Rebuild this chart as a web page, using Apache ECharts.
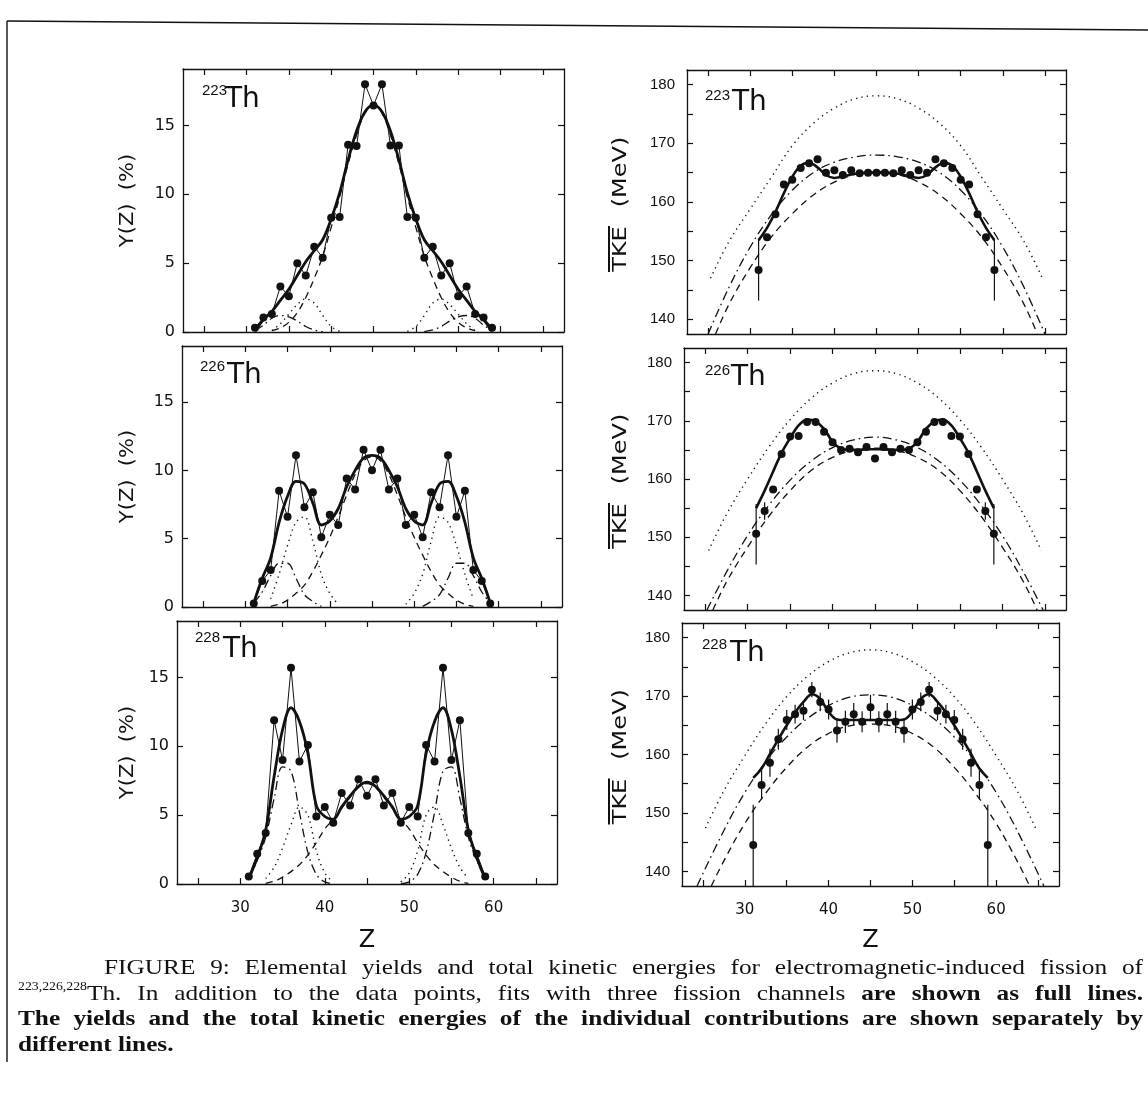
<!DOCTYPE html>
<html>
<head>
<meta charset="utf-8">
<title>Elemental yields and TKE of 223,226,228Th</title>
<script src="https://cdn.jsdelivr.net/npm/echarts@6.0.0/dist/echarts.min.js"></script>
<style>
html,body{margin:0;padding:0;background:#ffffff;}
#chart{width:1148px;height:1110px;}
</style>
</head>
<body>
<div id="chart"></div>
<script>
// ================= data =================
const Z_INT = [31,32,33,34,35,36,37,38,39,40,41,42,43,44,45,46,47,48,49,50,51,52,53,54,55,56,57,58,59];
const Z_MID = [33,34,35,36,37,38,39,40,41,42,43,44,45,46,47,48,49,50,51,52,53,54,55,56,57];

const X_TICKS = [25,30,35,40,45,50,55,60,65];
const X_LABELS = [30,40,50,60];
const Y_TICKS = [0,5,10,15];
const TKE_TICKS = [140,145,150,155,160,165,170,175,180];
const TKE_LABELS = [140,150,160,170,180];
const NUCLEI = ['223','226','228'];

// ---- yields Y(Z) in % ----
const Y223_DATA = [0.3,1.05,1.3,3.3,2.6,5.0,4.1,6.2,5.4,8.3,8.35,13.6,13.5,18.0,16.45,18.0,13.55,13.55,8.35,8.3,5.4,6.2,4.1,5.0,2.6,3.3,1.3,1.05,0.3];
const Y223_FIT  = [0.05,0.9,1.5,2.3,3.1,4.1,5.1,5.9,6.7,8.2,10.1,12.5,14.6,16.0,16.5,16.0,14.6,12.5,10.1,8.2,6.7,5.9,5.1,4.1,3.1,2.3,1.5,0.9,0.05];
const Y223_DASH = [0.1,0.3,0.7,1.4,2.5,3.9,5.5,7.6,9.8,12.2,14.3,15.9,16.45,15.9,14.3,12.2,9.8,7.6,5.5,3.9,2.5,1.4,0.7,0.3,0.1];
const Y223_DOT  = [0.1,0.6,1.3,2.0,2.4,2.1,1.2,0.4,0.05,null,null,null,null,null,null,null,0.05,0.4,1.2,2.1,2.4,2.0,1.3,0.6,0.1];
const Y223_DDOT = [0.1,0.5,1.0,1.2,1.1,0.8,0.4,0.15,0.03,null,null,null,null,null,null,null,null,null,null,null,0.03,0.15,0.4,0.8,1.1,1.2,1.0,0.5,0.1];

const Y226_DATA = [0.25,1.9,2.7,8.5,6.6,11.1,7.3,8.4,5.1,6.75,6.0,9.4,8.6,11.5,10.0,11.5,8.6,9.4,6.0,6.75,5.1,8.4,7.3,11.1,6.6,8.5,2.7,1.9,0.25];
const Y226_FIT  = [0.3,2.1,3.6,6.2,8.1,9.2,9.0,7.6,6.0,6.3,7.2,8.8,10.0,10.9,11.1,10.9,10.0,8.8,7.2,6.3,6.0,7.6,9.0,9.2,8.1,6.2,3.6,2.1,0.3];
const Y226_DASH = [0.05,0.2,0.5,1.0,1.6,2.6,3.8,5.1,6.6,8.2,9.7,10.7,11.0,10.7,9.7,8.2,6.6,5.1,3.8,2.6,1.6,1.0,0.5,0.2,0.05];
const Y226_DOT  = [0.6,2.4,4.5,6.2,6.6,4.8,2.4,1.0,0.2,null,null,null,null,null,null,null,0.2,1.0,2.4,4.8,6.6,6.2,4.5,2.4,0.6];
const Y226_DDOT = [0.3,1.1,2.3,3.2,3.2,2.1,0.9,0.4,0.05,null,null,null,null,null,null,null,null,null,null,null,0.05,0.4,0.9,2.1,3.2,3.2,2.3,1.1,0.3];

const Y228_DATA = [0.55,2.2,3.7,11.9,9.0,15.7,8.9,10.1,4.9,5.6,4.45,6.6,5.7,7.6,6.4,7.6,5.7,6.6,4.45,5.6,4.9,10.1,8.9,15.7,9.0,11.9,3.7,2.2,0.55];
const Y228_FIT  = [0.4,1.9,3.9,7.8,11.2,12.8,11.8,9.5,5.7,4.9,4.7,5.6,6.4,7.1,7.4,7.1,6.4,5.6,4.7,4.9,5.7,9.5,11.8,12.8,11.2,7.8,3.9,1.9,0.4];
const Y228_DASH = [0.05,0.2,0.5,0.9,1.4,2.1,3.0,4.0,4.7,5.5,6.3,7.0,7.3,7.0,6.3,5.5,4.7,4.0,3.0,2.1,1.4,0.9,0.5,0.2,0.05];
const Y228_DOT  = [0.4,1.2,2.6,4.3,5.6,5.0,2.4,0.8,0.15,null,null,null,null,null,null,null,0.15,0.8,2.4,5.0,5.6,4.3,2.6,1.2,0.4];
const Y228_DDOT = [0.4,1.7,3.4,6.2,8.5,8.2,5.2,2.3,0.7,0.15,0.02,null,null,null,null,null,null,null,0.02,0.15,0.7,2.3,5.2,8.2,8.5,6.2,3.4,1.7,0.4];

// ---- total kinetic energies (MeV) ----
const TKE223_DATA = [148.4,154.0,157.9,163.0,163.8,165.8,166.6,167.3,165.0,165.4,164.6,165.4,164.9,165.0,165.0,165.0,164.9,165.4,164.6,165.4,165.0,167.3,166.6,165.8,163.8,163.0,157.9,154.0,148.4];
const TKE223_FIT  = [153.5,155.6,158.3,161.5,164.3,166.2,166.7,165.9,164.6,164.1,164.3,164.7,164.9,165.0,165.0,165.0,164.9,164.7,164.3,164.1,164.6,165.9,166.7,166.2,164.3,161.5,158.3,155.6,153.5];
const TKE223_ERR_Z  = [31,59];
const TKE223_ERR_LO = [143.2,143.2];
const TKE223_ERR_HI = [153.6,153.6];
const TKE223_DOT_Z  = [25.3,27.5,30,32.5,35,37.5,40,42.5,45,47.5,50,52.5,55,57.5,60,62.5,64.7];
const TKE223_DOT    = [147.0,153.3,158.8,164.2,169.6,173.4,176.0,177.6,178.1,177.6,176.0,173.4,169.6,164.2,158.8,153.3,147.0];
const TKE223_DDOT_Z = [25.0,27.5,30,32.5,35,37.5,40,42.5,45,47.5,50,52.5,55,57.5,60,62.5,65.0];
const TKE223_DDOT   = [137.5,145.5,152.3,157.8,162.0,165.0,166.8,167.7,168.0,167.7,166.8,165.0,162.0,157.8,152.3,145.5,137.5];
const TKE223_DASH_Z = [25.9,27.5,30,32.5,35,37.5,40,42.5,45,47.5,50,52.5,55,57.5,60,62.5,64.1];
const TKE223_DASH   = [137.5,142.6,148.8,154.0,158.0,161.2,163.4,164.7,165.2,164.7,163.4,161.2,158.0,154.0,148.8,142.6,137.5];

const TKE226_DATA = [150.6,154.5,158.2,164.3,167.3,167.4,169.8,169.8,168.1,166.3,165.0,165.2,164.6,165.5,163.5,165.5,164.6,165.2,165.0,166.3,168.1,169.8,169.8,167.4,167.3,164.3,158.2,154.5,150.6];
const TKE226_FIT  = [155.0,158.0,161.3,164.5,167.0,169.2,170.2,169.9,168.6,166.4,165.2,165.0,165.0,165.1,165.1,165.1,165.0,165.0,165.2,166.4,168.6,169.9,170.2,169.2,167.0,164.5,161.3,158.0,155.0];
const TKE226_ERR_Z  = [31,32,58,59];
const TKE226_ERR_LO = [145.3,153.0,153.0,145.3];
const TKE226_ERR_HI = [155.7,156.0,156.0,155.7];
const TKE226_DOT_Z  = [25.4,27.5,30,32.5,35,37.5,40,42.5,45,47.5,50,52.5,55,57.5,60,62.5,64.6];
const TKE226_DOT    = [147.7,153.9,160.0,165.5,170.2,173.9,176.5,178.1,178.6,178.1,176.5,173.9,170.2,165.5,160.0,153.9,147.7];
const TKE226_DDOT_Z = [25.2,27.5,30,32.5,35,37.5,40,42.5,45,47.5,50,52.5,55,57.5,60,62.5,64.8];
const TKE226_DDOT   = [137.5,144.0,150.3,155.5,159.8,163.1,165.4,166.7,167.2,166.7,165.4,163.1,159.8,155.5,150.3,144.0,137.5];
const TKE226_DASH_Z = [25.9,27.5,30,32.5,35,37.5,40,42.5,45,47.5,50,52.5,55,57.5,60,62.5,64.1];
const TKE226_DASH   = [137.5,142.3,148.3,153.6,158.0,161.5,163.7,164.9,165.3,164.9,163.7,161.5,158.0,153.6,148.3,142.3,137.5];

const TKE228_DATA = [144.5,154.8,158.6,162.6,165.9,166.9,167.5,171.1,169.0,167.7,164.1,165.6,166.9,165.6,168.1,165.6,166.9,165.6,164.1,167.7,169.0,171.1,167.5,166.9,165.9,162.6,158.6,154.8,144.5];
const TKE228_FIT  = [156.0,157.6,160.1,162.6,165.0,167.2,169.0,170.3,169.5,167.3,166.0,165.9,165.9,165.9,165.9,165.9,165.9,165.9,166.0,167.3,169.5,170.3,169.0,167.2,165.0,162.6,160.1,157.6,156.0];
const TKE228_ERR_LO = [137.5,152.3,156.2,160.8,164.2,165.3,165.9,169.8,167.4,166.0,162.0,163.7,165.0,163.8,165.9,163.8,165.0,163.7,162.0,166.0,167.4,169.8,165.9,165.3,164.2,160.8,156.2,152.3,137.5];
const TKE228_ERR_HI = [151.4,157.3,161.0,164.4,167.6,168.5,169.1,172.4,170.6,169.4,166.2,167.5,168.8,167.4,170.2,167.4,168.8,167.5,166.2,169.4,170.6,172.4,169.1,168.5,167.6,164.4,161.0,157.3,151.4];
const TKE228_DOT_Z  = [25.3,27.5,30,32.5,35,37.5,40,42.5,45,47.5,50,52.5,55,57.5,60,62.5,64.7];
const TKE228_DOT    = [147.4,153.8,159.8,165.3,169.9,173.4,175.9,177.4,177.9,177.4,175.9,173.4,169.9,165.3,159.8,153.8,147.4];
const TKE228_DDOT_Z = [24.3,27.5,30,32.5,35,37.5,40,42.5,45,47.5,50,52.5,55,57.5,60,62.5,65.7];
const TKE228_DDOT   = [137.5,147.0,153.5,158.8,163.0,166.2,168.4,169.8,170.2,169.8,168.4,166.2,163.0,158.8,153.5,147.0,137.5];
const TKE228_DASH_Z = [26.0,27.5,30,32.5,35,37.5,40,42.5,45,47.5,50,52.5,55,57.5,60,62.5,64.0];
const TKE228_DASH   = [137.5,141.8,148.2,153.4,157.8,161.3,163.6,164.9,165.2,164.9,163.6,161.3,157.8,153.4,148.2,141.8,137.5];

// ================= layout / style =================
const GRID_POS = [
  {left:183, top:69,  width:381, height:263},
  {left:182, top:346, width:380, height:261},
  {left:177, top:621, width:380, height:263},
  {left:687, top:70,  width:379, height:264},
  {left:684, top:348, width:382, height:262},
  {left:682, top:623, width:377, height:263}
];
const SUP_DX = [19,18,18,18,21,20], TH_DX = [42,45,46,45,47,48];
const SUP_DY = [22,20.5,16.5,26,23,22], TH_DY = [31,30,28.5,33,29.5,31];

const AX_FONT = "'DejaVu Sans', 'Liberation Sans', sans-serif";
const NUM_FONT = "'Liberation Sans', 'DejaVu Sans', sans-serif";
const CAP_FONT = "'Liberation Serif', 'Times New Roman', serif";
const BLACK = '#111';
const DASH = [7,5], DOT = [1.3,4.2], DDOT = [9,4,1.6,4];

function pairs(xs, ys) { return xs.map((x, i) => [x, (ys[i] === null || ys[i] === undefined) ? '-' : ys[i]]); }
function triples(xs, lo, hi) { return xs.map((x, i) => [x, lo[i], hi[i]]); }

const grids = GRID_POS.map(g => Object.assign({containLabel:false, show:false}, g));
const xAxes = [], yAxes = [];
for (let gi = 0; gi < 6; gi++) {
  const bottomRow = (gi === 2 || gi === 5);
  const isTKE = gi >= 3;
  const lineCfg = {show:true, onZero:false, lineStyle:{color:BLACK, width:1.3}};
  const xBase = {gridIndex:gi, type:'value', min:22.5, max:67.5, splitLine:{show:false}, axisLine:lineCfg,
    axisTick:{show:true, inside:true, length:6, customValues:X_TICKS, lineStyle:{color:BLACK, width:1.2}}};
  xAxes.push(Object.assign({}, xBase, {position:'bottom',
    axisLabel:{show:bottomRow, customValues:X_LABELS, color:BLACK, fontSize:15, fontFamily:AX_FONT, margin:17}}));
  xAxes.push(Object.assign({}, xBase, {position:'top', axisLabel:{show:false}}));
  const ticks = isTKE ? TKE_TICKS : Y_TICKS;
  const yBase = {gridIndex:gi, type:'value', min: isTKE ? 137.5 : 0, max: isTKE ? 182.5 : 19.1,
    splitLine:{show:false}, axisLine:lineCfg,
    axisTick:{show:true, inside:true, length:6, customValues:ticks, lineStyle:{color:BLACK, width:1.2}}};
  yAxes.push(Object.assign({}, yBase, {position:'left',
    axisLabel:{show:true, customValues: isTKE ? TKE_LABELS : Y_TICKS, color:BLACK,
      fontSize: isTKE ? 15 : 16, fontFamily: isTKE ? NUM_FONT : AX_FONT, margin: isTKE ? 12 : 8}}));
  yAxes.push(Object.assign({}, yBase, {position:'right', axisLabel:{show:false}}));
}

function lineS(gi, data, width, type, smooth) {
  return {type:'line', xAxisIndex:2*gi, yAxisIndex:2*gi, data:data, showSymbol:false, symbol:'none',
    smooth: smooth, connectNulls:false, silent:true, z:2,
    lineStyle:{color:BLACK, width:width, type:type, opacity:1}};
}
function yieldSeries(gi, data, fit, dash, dot, ddot) {
  return [
    lineS(gi, pairs(Z_MID, dash), 1.3, DASH, 0.35),
    lineS(gi, pairs(Z_MID, dot), 1.4, DOT, 0.35),
    lineS(gi, pairs(Z_INT, ddot), 1.3, DDOT, 0.35),
    Object.assign(lineS(gi, pairs(Z_INT, fit), 2.8, 'solid', 0.35), {z:4}),
    {type:'line', xAxisIndex:2*gi, yAxisIndex:2*gi, data:pairs(Z_INT, data), smooth:false,
     symbol:'circle', symbolSize:8, showSymbol:true, z:5, silent:true,
     itemStyle:{color:BLACK, opacity:1}, lineStyle:{color:BLACK, width:1}}
  ];
}
function errSeries(gi, data) {
  return {type:'custom', xAxisIndex:2*gi, yAxisIndex:2*gi, data:data, z:3, silent:true, clip:true,
    encode:{x:0, y:[1,2]},
    renderItem: function (params, api) {
      const x = api.value(0);
      const p1 = api.coord([x, api.value(1)]);
      const p2 = api.coord([x, api.value(2)]);
      return {type:'line', shape:{x1:p1[0], y1:p1[1], x2:p2[0], y2:p2[1]},
              style:{stroke:BLACK, lineWidth:1.2}};
    }};
}
function tkeSeries(gi, data, fit, err, dotZ, dot, ddZ, dd, daZ, da) {
  return [
    lineS(gi, pairs(dotZ, dot), 1.4, DOT, 0.4),
    lineS(gi, pairs(ddZ, dd), 1.3, DDOT, 0.4),
    lineS(gi, pairs(daZ, da), 1.3, DASH, 0.4),
    errSeries(gi, err),
    Object.assign(lineS(gi, pairs(Z_INT, fit), 2.6, 'solid', 0.35), {z:4}),
    {type:'scatter', xAxisIndex:2*gi, yAxisIndex:2*gi, data:pairs(Z_INT, data), symbol:'circle',
     symbolSize:8, z:5, silent:true, itemStyle:{color:BLACK, opacity:1}}
  ];
}

const series = [].concat(
  yieldSeries(0, Y223_DATA, Y223_FIT, Y223_DASH, Y223_DOT, Y223_DDOT),
  yieldSeries(1, Y226_DATA, Y226_FIT, Y226_DASH, Y226_DOT, Y226_DDOT),
  yieldSeries(2, Y228_DATA, Y228_FIT, Y228_DASH, Y228_DOT, Y228_DDOT),
  tkeSeries(3, TKE223_DATA, TKE223_FIT, triples(TKE223_ERR_Z, TKE223_ERR_LO, TKE223_ERR_HI),
            TKE223_DOT_Z, TKE223_DOT, TKE223_DDOT_Z, TKE223_DDOT, TKE223_DASH_Z, TKE223_DASH),
  tkeSeries(4, TKE226_DATA, TKE226_FIT, triples(TKE226_ERR_Z, TKE226_ERR_LO, TKE226_ERR_HI),
            TKE226_DOT_Z, TKE226_DOT, TKE226_DDOT_Z, TKE226_DDOT, TKE226_DASH_Z, TKE226_DASH),
  tkeSeries(5, TKE228_DATA, TKE228_FIT, triples(Z_INT, TKE228_ERR_LO, TKE228_ERR_HI),
            TKE228_DOT_Z, TKE228_DOT, TKE228_DDOT_Z, TKE228_DDOT, TKE228_DASH_Z, TKE228_DASH)
);

// ================= texts (graphic) =================
const graphics = [];
// page frame (scan border)
graphics.push({type:'line', shape:{x1:7, y1:21, x2:7, y2:1062}, style:{stroke:BLACK, lineWidth:1.4}, silent:true});
graphics.push({type:'line', shape:{x1:7, y1:21, x2:1148, y2:30}, style:{stroke:BLACK, lineWidth:1.4}, silent:true});

// nucleus labels
for (let gi = 0; gi < 6; gi++) {
  const g = GRID_POS[gi];
  graphics.push({type:'text', x:g.left + SUP_DX[gi], y:g.top + SUP_DY[gi], silent:true,
    style:{text:NUCLEI[gi % 3], fontSize:15, fontFamily:NUM_FONT, fill:BLACK, align:'left', verticalAlign:'middle'}});
  graphics.push({type:'text', x:g.left + TH_DX[gi], y:g.top + TH_DY[gi], silent:true,
    style:{text:'Th', fontSize:28, fontFamily:AX_FONT, fill:BLACK, align:'left', verticalAlign:'middle'}});
}
// y axis titles
for (let r = 0; r < 3; r++) {
  const gl = GRID_POS[r], gr = GRID_POS[r + 3];
  const cl = gl.top + gl.height / 2, cr = gr.top + gr.height / 2;
  graphics.push({type:'text', x:128, y:cl, rotation:Math.PI / 2, scaleX:1.05, silent:true,
    style:{text:'Y(Z)  (%)', fontSize:20, fontFamily:AX_FONT, fill:BLACK, align:'center', verticalAlign:'middle'}});
  graphics.push({type:'text', x:621, y:cr + 47, rotation:Math.PI / 2, scaleX:1.2, silent:true,
    style:{text:'TKE', fontSize:20, fontFamily:AX_FONT, fill:BLACK, align:'center', verticalAlign:'middle'}});
  graphics.push({type:'line', shape:{x1:609, y1:cr + 24, x2:609, y2:cr + 70}, style:{stroke:BLACK, lineWidth:2}, silent:true});
  graphics.push({type:'text', x:621, y:cr - 30, rotation:Math.PI / 2, scaleX:1.2, silent:true,
    style:{text:'(MeV)', fontSize:20, fontFamily:AX_FONT, fill:BLACK, align:'center', verticalAlign:'middle'}});
}
// x axis titles
graphics.push({type:'text', x:GRID_POS[2].left + GRID_POS[2].width / 2, y:941, silent:true,
  style:{text:'Z', fontSize:24, fontFamily:AX_FONT, fill:BLACK, align:'center', verticalAlign:'middle'}});
graphics.push({type:'text', x:GRID_POS[5].left + GRID_POS[5].width / 2, y:941, silent:true,
  style:{text:'Z', fontSize:24, fontFamily:AX_FONT, fill:BLACK, align:'center', verticalAlign:'middle'}});

// caption, justified word by word
const CAP_LINES = [
  {x0:104, x1:1143, y:968, justify:true, sup:null,
   parts:[['FIGURE 9: Elemental yields and total kinetic energies for electromagnetic-induced fission of','normal']]},
  {x0:18, x1:1143, y:994, justify:true, sup:'223,226,228',
   parts:[['Th. In addition to the data points, fits with three fission channels','normal'],['are shown as full lines.','bold']]},
  {x0:18, x1:1143, y:1019, justify:true, sup:null,
   parts:[['The yields and the total kinetic energies of the individual contributions are shown separately by','bold']]},
  {x0:18, x1:1143, y:1045, justify:false, sup:null,
   parts:[['different lines.','bold']]}
];
const mctx = document.createElement('canvas').getContext('2d');
function tw(t, w, s) { mctx.font = w + ' ' + s + 'px ' + CAP_FONT; return mctx.measureText(t).width; }
// choose caption size / horizontal stretch so that justified lines have near-normal word spacing
const BASE = 20;
let fit = 10;
CAP_LINES.forEach(L => {
  if (!L.justify) return;
  let nat = 0, n = 0;
  L.parts.forEach(p => p[0].split(' ').forEach(w => { nat += tw(w, p[1], BASE); n++; }));
  nat += (n - 1) * tw(' ', 'normal', BASE) * 1.4;
  if (L.sup) nat += tw(L.sup, 'normal', 11);
  fit = Math.min(fit, (L.x1 - L.x0) / nat);
});
const sizeFactor = Math.min(fit, 1.1);
const CAP_SIZE = BASE * sizeFactor;
const CAP_SX = Math.min(fit / sizeFactor, 1.15);
const SUP_SIZE = 12;
CAP_LINES.forEach(L => {
  const words = [];
  L.parts.forEach(p => p[0].split(' ').forEach(w => words.push({t:w, w:p[1]})));
  const supW = L.sup ? tw(L.sup, 'normal', SUP_SIZE) * CAP_SX : 0;
  const widths = words.map((o, i) => tw(o.t, o.w, CAP_SIZE) * CAP_SX + (i === 0 ? supW : 0));
  const total = widths.reduce((a, b) => a + b, 0);
  const space = tw(' ', 'normal', CAP_SIZE) * CAP_SX;
  const gap = L.justify ? Math.max(space * 0.6, (L.x1 - L.x0 - total) / (words.length - 1)) : space;
  let x = L.x0;
  words.forEach((o, i) => {
    let wx = x;
    if (i === 0 && L.sup) {
      graphics.push({type:'text', x:wx, y:L.y - 7, scaleX:CAP_SX, silent:true,
        style:{text:L.sup, fontSize:SUP_SIZE, fontFamily:CAP_FONT, fill:BLACK, align:'left', verticalAlign:'middle'}});
      wx += supW;
    }
    graphics.push({type:'text', x:wx, y:L.y, scaleX:CAP_SX, silent:true,
      style:{text:o.t, fontSize:CAP_SIZE, fontWeight:o.w, fontFamily:CAP_FONT, fill:BLACK, align:'left', verticalAlign:'middle'}});
    x += widths[i] + gap;
  });
});

const chart = echarts.init(document.getElementById('chart'), null, {renderer:'canvas'});
chart.setOption({
  animation:false,
  backgroundColor:'#ffffff',
  grid:grids,
  xAxis:xAxes,
  yAxis:yAxes,
  series:series,
  graphic:{elements:graphics}
});
</script>
</body>
</html>
